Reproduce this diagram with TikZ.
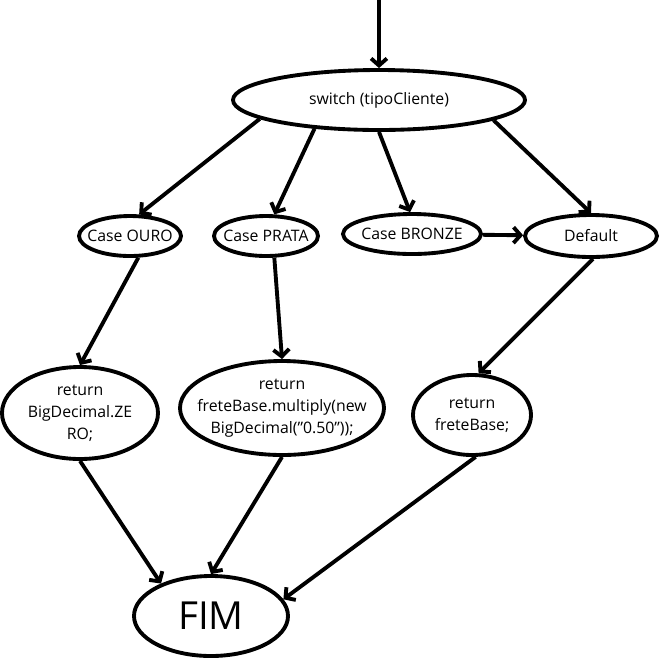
\documentclass[tikz,border=0pt]{standalone}
\usepackage{fontspec}
\setmainfont{Open Sans}
\usetikzlibrary{positioning, arrows.meta, shapes.geometric}

\begin{document}
\begin{tikzpicture}[
      x=0.02cm, y=-0.02cm,
      line width=2.2pt,
      every node/.style={draw, ellipse, align=center, inner sep=-40pt, line width=2.2pt},
      small/.style={font=\fontsize{9}{11}\selectfont},
      code/.style={font=\fontsize{9}{12.6}\selectfont},
      >={Straight Barb[length=4pt, width=9pt]}
    ]
    \useasboundingbox (0,0) rectangle (663,657);
    \coordinate (start) at (379,-5);
    \node (switch) [small, minimum width=292*0.02cm, minimum height=60*0.02cm] at (379,100) {switch (tipoCliente)};
    \node (ouro) [small, minimum width=102*0.02cm, minimum height=40*0.02cm] at (130,236) {Case OURO};
    \node (prata) [small, minimum width=104*0.02cm, minimum height=40*0.02cm] at (266,236) {Case PRATA};
    \node (bronze) [small, minimum width=138*0.02cm, minimum height=40*0.02cm] at (412,234) {Case BRONZE};
    \node (default) [small, minimum width=132*0.02cm, minimum height=42*0.02cm] at (591,236) {Default};
    \node (zero) [code, minimum width=156*0.02cm, minimum height=92*0.02cm] at (80,413) {return\\BigDecimal.ZE\\RO;};
    \node (half) [code, minimum width=204*0.02cm, minimum height=94*0.02cm] at (282,408) {return\\freteBase.multiply(new\\BigDecimal(\char34 0.50\char34));};
    \node (base) [code, minimum width=118*0.02cm, minimum height=80*0.02cm] at (472,415) {return\\freteBase;};
    \node (fim) [font=\fontsize{22}{26}\selectfont, minimum width=154*0.02cm, minimum height=80*0.02cm] at (211,616) {FIM};

    \draw[->] (start) -- (switch.north);
    \draw[->] (switch.189) -- (ouro.67);
    \draw[->] (switch.204) -- (prata.69);
    \draw[->] (switch.270) -- (bronze.95);
    \draw[->] (switch.350) -- (default.90);
    \draw[->] (bronze) -- (default);
    \draw[->] (ouro.291) -- (zero.90);
    \draw[->] (prata.291) -- (half.90);
    \draw[->] (default.275) -- (base.81);
    \draw[->] (zero.270) -- (fim.147);
    \draw[->] (half.270) -- (fim.90);
    \draw[->] (base.275) -- (fim.13);
  \end{tikzpicture}
\end{document}
